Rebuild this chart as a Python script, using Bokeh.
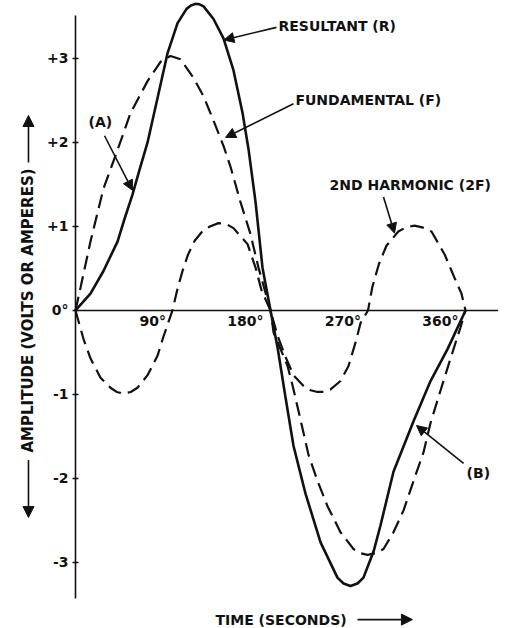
import math
from bokeh.plotting import figure
from bokeh.models import Range1d, FixedTicker, Arrow, NormalHead
from bokeh.core.properties import value
from bokeh.embed import file_html
from bokeh.resources import INLINE

# ---------------- data (degrees, amplitude) ----------------
fund_deg = [0, 4.6, 13.8, 25.8, 38.8, 50.8, 66.5, 78.5, 87.7, 96.9, 108.9, 118.2, 127.4,
            136.6, 143.1, 152.3, 161.5, 168.9, 180, 182.8, 195.7, 200.3, 207.7, 215.1,
            223.4, 232.6, 244.6, 256.6, 263, 269.5, 277, 284.3, 293.5, 302.8, 312, 321.2,
            327.7, 337, 346.2, 355.4, 360]
fund_val = [0, 0.27, 0.82, 1.45, 1.91, 2.35, 2.73, 2.96, 3.03, 2.99, 2.77, 2.55, 2.26,
            1.96, 1.71, 1.29, 0.91, 0.51, 0, -0.26, -0.66, -0.89, -1.30, -1.72,
            -2.03, -2.33, -2.64, -2.84, -2.89, -2.91, -2.89, -2.84, -2.64, -2.38, -2.03,
            -1.69, -1.34, -0.95, -0.57, -0.20, 0]

harm_deg = [0, 7.4, 13.8, 23.1, 32.3, 38, 44.3, 51, 57.2, 66.5, 75.7, 81.2, 89.5, 94, 99,
            104, 110, 117, 124, 132, 139, 145.8, 158.8, 166.2, 171.7, 180, 186.5, 193.8,
            201.2, 210.5, 217, 223.4, 229, 235.4, 244.6, 252, 258.5, 263.1, 270, 274, 280,
            287, 298, 305, 312.9, 320, 328.6, 340.6, 349.8, 356.3, 360]
harm_val = [0, -0.34, -0.57, -0.80, -0.92, -0.97, -0.99, -0.97, -0.92, -0.77, -0.54, -0.31,
            0, 0.25, 0.48, 0.67, 0.83, 0.94, 1.00, 1.04, 1.03, 0.98, 0.79, 0.51, 0.24, 0,
            -0.30, -0.55, -0.77, -0.90, -0.95, -0.97, -0.97, -0.94, -0.84, -0.66, -0.38,
            -0.15, 0, 0.28, 0.55, 0.77, 0.94, 0.99, 1.01, 0.99, 0.94, 0.67, 0.39, 0.20, 0]

res_deg = [0, 13.8, 25.8, 38.8, 45, 52.6, 59, 66.5, 76.6, 84.9, 94.2, 102.5, 106.5, 110.8,
           114.5, 118.2, 127.4, 136.6, 145.8, 154.2, 159.7, 166.2, 172.6, 180, 186.5,
           193.8, 201.2, 212.3, 226.2, 241.8, 247.4, 253.8, 260.3, 265.8, 275.1, 281.5,
           293.5, 312, 327.7, 343.4, 360]
res_val = [0, 0.20, 0.47, 0.82, 1.08, 1.38, 1.67, 2.00, 2.58, 3.06, 3.42, 3.59, 3.63, 3.65,
           3.645, 3.62, 3.47, 3.24, 2.86, 2.35, 1.92, 1.29, 0.51, 0, -0.44,
           -1.03, -1.61, -2.18, -2.76, -3.18, -3.25, -3.28, -3.25, -3.18, -2.87, -2.56,
           -1.92, -1.32, -0.84, -0.46, 0]

y_ticks = [-3, -2, -1, 0, 1, 2, 3]
y_labels = ["-3", "-2", "-1", "0°", "+1", "+2", "+3"]
x_ticks = [90, 180, 270, 360]
x_labels = ["90°", "180°", "270°", "360°"]

FONT = "DejaVu Sans"
INK = "#111111"

p = figure(width=522, height=628, output_backend="svg", toolbar_location=None,
           x_range=Range1d(-69.23, 412.6), y_range=Range1d(-3.786, 3.690),
           min_border_left=0, min_border_right=0, min_border_top=0, min_border_bottom=0,
           x_axis_location=None)
p.grid.visible = False
p.outline_line_color = None

# y axis drawn at 0 degrees
ya = p.yaxis[0]
ya.fixed_location = 0
ya.ticker = FixedTicker(ticks=y_ticks)
ya.major_label_overrides = {t: l for t, l in zip(y_ticks, y_labels)}
ya.bounds = (-3.43, 3.51)
ya.axis_line_width = 1.6
ya.axis_line_color = INK
ya.major_tick_in = 3
ya.major_tick_out = 3
ya.major_tick_line_width = 1.5
ya.major_tick_line_color = INK
ya.minor_tick_line_color = None
ya.major_label_text_font = FONT
ya.major_label_text_font_style = "bold"
ya.major_label_text_font_size = "14px"
ya.major_label_text_color = INK
ya.major_label_standoff = 4

# y title (rotated) with arrows
p.text(x=[-43.4], y=[0.0], text=["AMPLITUDE (VOLTS OR AMPERES)"], angle=math.pi / 2,
       text_font=value(FONT), text_font_style="bold", text_font_size="15px",
       text_align="center", text_baseline="middle", text_color=INK)

# x axis line at zero
p.segment(x0=0, y0=0, x1=390, y1=0, line_width=1.6, line_color=INK)
p.text(x=x_ticks, y=[0] * len(x_ticks), text=x_labels, text_font=value(FONT),
       text_font_style="bold", text_font_size="14px", text_align="right",
       text_baseline="top", x_offset=-7, y_offset=3, text_color=INK)

# curves
p.line(fund_deg, fund_val, line_width=2.2, line_dash="14 7", line_color=INK)
p.line(harm_deg, harm_val, line_width=2.2, line_dash="14 7", line_color=INK)
p.line(res_deg, res_val, line_width=2.6, line_color=INK)

# annotation labels
ann_x = [187.4, 203.0, 234.5, 12.0, 361.0, 129.2]
ann_y = [3.39, 2.51, 1.49, 2.24, -1.93, -3.68]
ann_t = ["RESULTANT (R)", "FUNDAMENTAL (F)", "2ND HARMONIC (2F)", "(A)", "(B)", "TIME (SECONDS)"]
p.text(x=ann_x, y=ann_y, text=ann_t, text_font=value(FONT), text_font_style="bold",
       text_font_size="14px", text_align="left", text_baseline="middle", text_color=INK)

def arrow(x0, y0, x1, y1, size=10):
    p.add_layout(Arrow(end=NormalHead(size=size, fill_color=INK, line_color=INK, line_width=1),
                       x_start=x0, y_start=y0, x_end=x1, y_end=y1,
                       line_width=1.6, line_color=INK))

arrow(185.5, 3.37, 137.0, 3.22)
arrow(201.2, 2.46, 138.5, 2.06)
arrow(284.3, 1.35, 294.5, 0.92)
arrow(26.8, 2.08, 52.6, 1.43)
arrow(358.2, -1.82, 314.8, -1.37)
arrow(260.3, -3.68, 311.0, -3.68, size=11)
arrow(-43.4, 1.76, -43.4, 2.321, size=11)
arrow(-43.4, -1.78, -43.4, -2.464, size=11)

open("out.html", "w").write(file_html(p, INLINE))
